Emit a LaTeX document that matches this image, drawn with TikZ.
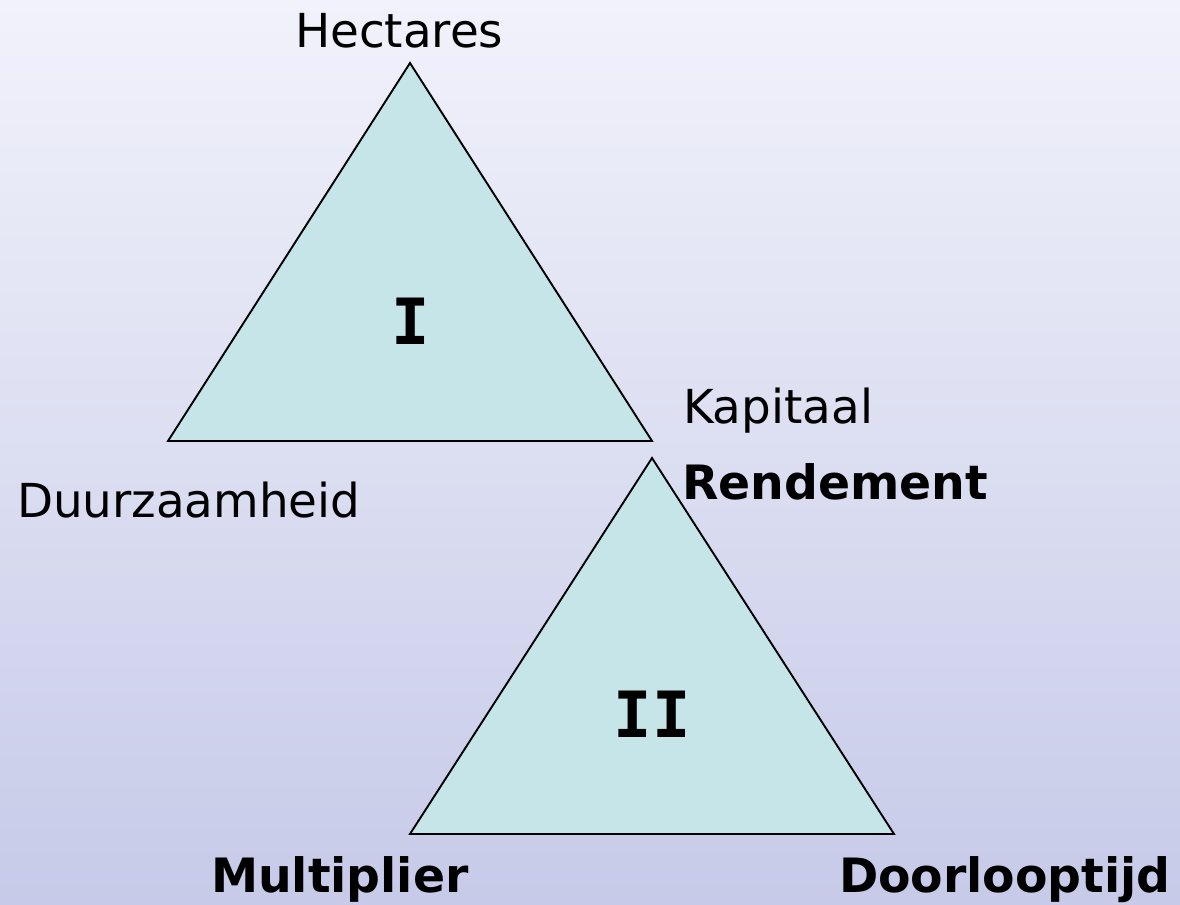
\documentclass[tikz,border=0pt]{standalone}
\usepackage{fontspec}
\setmainfont{DejaVu Sans}
\newfontfamily\romanfont{DejaVu Sans Mono}
\definecolor{bgtop}{HTML}{F1F2FB}
\definecolor{bgbot}{HTML}{C7CAE8}
\definecolor{trifill}{HTML}{C5E5E8}
\begin{document}
\begin{tikzpicture}[x=1bp,y=-1bp,
  tri/.style={fill=trifill,draw=black,line width=1.9bp,line join=miter},
  lbl/.style={inner sep=0pt,outer sep=0pt,anchor=base west,font=\fontsize{47}{56}\selectfont},
  blbl/.style={inner sep=0pt,outer sep=0pt,anchor=base west,font=\fontsize{47.5}{56}\selectfont\bfseries},
  roman/.style={inner sep=0pt,outer sep=0pt,font=\fontsize{64}{70}\selectfont\romanfont\bfseries}]
\shade[top color=bgtop,bottom color=bgbot] (0,0) rectangle (1180,905);
\useasboundingbox (0,0) rectangle (1180,905);
% triangle I
\coordinate (a1) at (410,63);
\coordinate (b1) at (168,441);
\coordinate (c1) at (652,441);
\draw[tri] (a1) -- (b1) -- (c1) -- cycle;
% triangle II
\coordinate (a2) at (652,458);
\coordinate (b2) at (410,834);
\coordinate (c2) at (894,834);
\draw[tri] (a2) -- (b2) -- (c2) -- cycle;
\node[roman] (r1) at (411,321) {I};
\node[roman] (r2) at (652,714) {II};
\node[lbl] (hect) at (295,47) {Hectares};
\node[lbl] (kap) at (683,423) {Kapitaal};
\node[lbl] (duur) at (17,517) {Duurzaamheid};
\node[blbl] (rend) at (682,499) {Rendement};
\node[blbl] (mult) at (211,892) {Multiplier};
\node[blbl] (door) at (839,892) {Doorlooptijd};
\end{tikzpicture}
\end{document}
